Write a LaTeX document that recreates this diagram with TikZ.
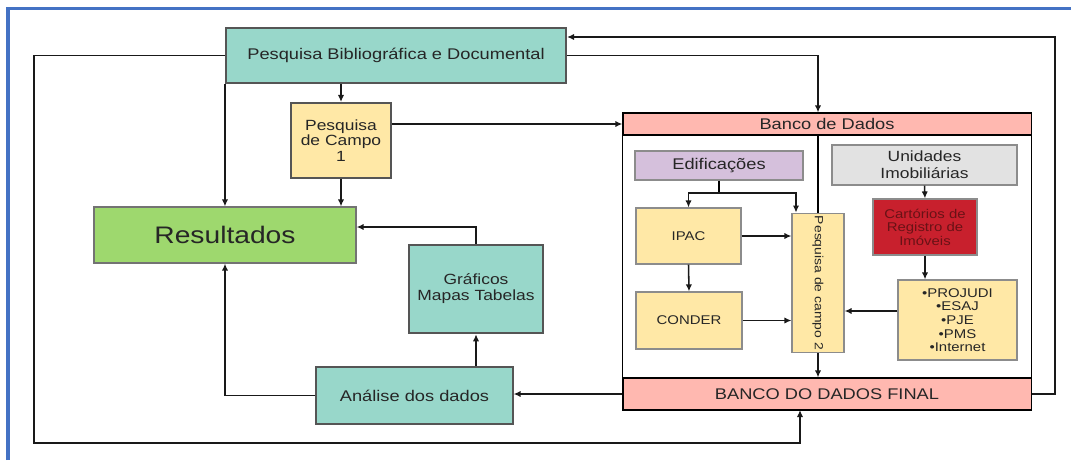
\documentclass[tikz,border=0pt]{standalone}
\usepackage{fontspec}
\setmainfont{Liberation Sans}[FakeStretch=1.18]
\usepackage{tikz}
\usetikzlibrary{arrows,arrows.meta,calc,positioning}

\definecolor{tealfill}{RGB}{152,215,202}
\definecolor{yellowfill}{RGB}{255,232,166}
\definecolor{greenfill}{RGB}{158,216,110}
\definecolor{pinkfill}{RGB}{255,184,176}
\definecolor{lilacfill}{RGB}{213,192,220}
\definecolor{greyfill}{RGB}{226,226,226}
\definecolor{redfill}{RGB}{200,32,45}
\definecolor{redtext}{RGB}{105,18,22}
\definecolor{frameblue}{RGB}{68,114,196}
\definecolor{edge}{RGB}{85,85,85}

\tikzset{
  box/.style={draw=edge, line width=0.8pt, align=center, text=black!85, inner sep=2pt,
    font=\fontsize{11}{12}\selectfont},
  tealbox/.style={box, fill=tealfill},
  yellowbox/.style={box, fill=yellowfill},
  pinkbox/.style={box, fill=pinkfill, draw=black},
  smallbox/.style={font=\fontsize{9}{9.6}\selectfont},
  link/.style={-{Latex[length=5pt,width=4.5pt]}, line width=1.1pt, black!90}
}

\begin{document}
\begin{tikzpicture}[x=0.025cm, y=-0.025cm]
\useasboundingbox (0,0) rectangle (1071,460);
\draw[frameblue, line width=2.8pt] (8,460) -- (8,8.5) -- (1071,8.5);

% left part
\node[tealbox, line width=1.4pt, minimum width=8.5cm, minimum height=1.375cm] (pbd) at (396,55.5) {Pesquisa Bibliográfica e Documental};
\node[yellowbox, line width=1.4pt, minimum width=2.5cm, minimum height=1.875cm, font=\fontsize{10.5}{11.2}\selectfont] (pc1) at (341,140.5) {Pesquisa\\de Campo\\1};
\node[box, fill=greenfill, draw=black!55, minimum width=6.55cm, minimum height=1.4cm, font=\fontsize{17}{18}\selectfont] (res) at (225,235) {Resultados};
\node[tealbox, line width=1.8pt, minimum width=3.35cm, minimum height=2.2cm, font=\fontsize{10.5}{11.5}\selectfont] (graf) at (476,289) {Gráficos\\Mapas Tabelas};
\node[tealbox, minimum width=4.925cm, minimum height=1.425cm] (anal) at (414.5,395.5) {Análise dos dados};

% banco de dados
\node[pinkbox, minimum width=10.2cm, minimum height=0.55cm] (bdd) at (827,124) {Banco de Dados};
\node[pinkbox, minimum width=10.2cm, minimum height=0.8cm] (bdf) at (827,394) {BANCO DO DADOS FINAL};
\draw[black, line width=1.1pt] (bdd.south west) rectangle (bdf.north east);
\node[box, fill=lilacfill, draw=black!45, minimum width=4.2cm, minimum height=0.725cm] (edif) at (719,165.5) {Edificações};
\node[box, fill=greyfill, draw=black!45, minimum width=4.625cm, minimum height=1.0cm, font=\fontsize{10.5}{12}\selectfont] (unid) at (924.5,165) {Unidades\\Imobiliárias};
\node[box, smallbox, fill=redfill, draw=black!45, text=redtext, minimum width=2.6cm, minimum height=1.4cm] (cart) at (925,227) {Cartórios de\\Registro de\\Imóveis};
\node[yellowbox, smallbox, draw=black!45, minimum width=2.625cm, minimum height=1.4cm] (ipac) at (688.5,236) {IPAC};
\node[yellowbox, smallbox, draw=black!45, minimum width=2.65cm, minimum height=1.425cm] (conder) at (689,320.5) {CONDER};
\node[yellowbox, draw=black!45, rotate=-90, minimum width=3.3cm, minimum height=1.3cm, font=\fontsize{8.4}{9}\selectfont] (pc2) at (818,283) {Pesquisa de campo 2};
\node[yellowbox, smallbox, draw=black!45, minimum width=2.975cm, minimum height=2.0cm, font=\fontsize{9}{9.7}\selectfont] (list) at (957.5,320) {•PROJUDI\\•ESAJ\\•PJE\\•PMS\\•Internet};

\coordinate (lowleft) at (34,443);
\coordinate (bdfin) at (800,410);
\coordinate (farright) at (1055,37);
\coordinate (edsplit) at (719,193);

% connectors
\draw[link] (pbd.south -| pc1) -- (pc1.north);
\draw[link] (pbd.south west) -- (pbd.south west |- res.north);
\draw[link] (pc1.south) -- (pc1.south |- res.north);
\draw[link] (pbd.west) -| (lowleft) -| (bdfin);
\draw[link] (pbd.east) -| ([xshift=-0.225cm]bdd.north);
\draw[link] (pc1.east |- bdd.west) -- (bdd.west);
\draw[link] (bdf.east) -| (farright) -- (farright -| pbd.east);
\draw[link] (bdf.west) -- (bdf.west -| anal.east);
\draw[link] (anal.west) -| (res.south);
\draw[link] (graf.south |- anal.north) -- (graf.south);
\draw[link] (graf.north) |- ([yshift=0.2cm]res.east);

\draw[line width=1.1pt] (pc2.west) -- (pc2.west |- bdd.south);
\draw[line width=1.1pt] (edif.south) -- (edsplit);
\draw[link] (edsplit) -| (ipac.north);
\draw[link] (edsplit) -| ([xshift=-0.55cm]pc2.west);
\draw[link] (ipac.east) -- (ipac.east -| pc2.south);
\draw[link] (ipac.south) -- (conder.north);
\draw[link] (conder.east) -- (conder.east -| pc2.south);
\draw[link, line width=1.6pt] (pc2.east) -- (pc2.east |- bdf.north);
\draw[link] (unid.south) -- (cart.north);
\draw[link] (cart.south) -- (cart.south |- list.north);
\draw[link] ([yshift=0.225cm]list.west) -- ([yshift=0.225cm]list.west -| pc2.north);
\end{tikzpicture}
\end{document}
